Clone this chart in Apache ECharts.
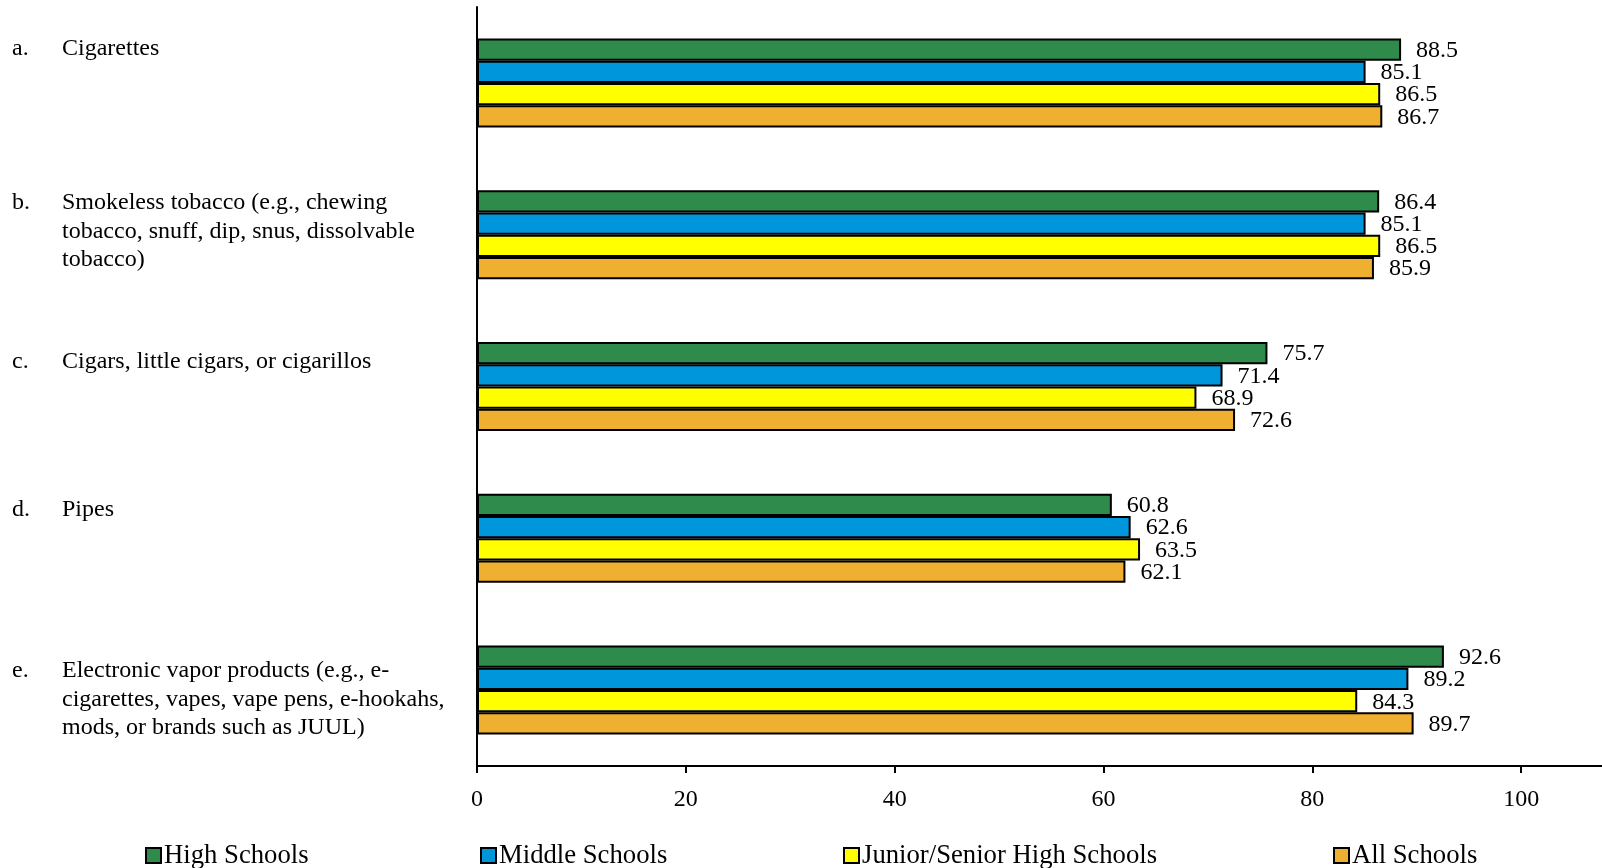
<!DOCTYPE html>
<html>
<head>
<meta charset="utf-8">
<script src="https://cdn.jsdelivr.net/npm/echarts@6/dist/echarts.min.js"></script>
<style>
html,body{margin:0;padding:0;background:#fff;}
#chart{width:1602px;height:868px;}
</style>
</head>
<body>
<div id="chart"></div>
<script>
// ---- data ----
var catLetters = ['a.', 'b.', 'c.', 'd.', 'e.'];
var catLines = [
  ['Cigarettes'],
  ['Smokeless tobacco (e.g., chewing', 'tobacco, snuff, dip, snus, dissolvable', 'tobacco)'],
  ['Cigars, little cigars, or cigarillos'],
  ['Pipes'],
  ['Electronic vapor products (e.g., e-', 'cigarettes, vapes, vape pens, e-hookahs,', 'mods, or brands such as JUUL)']
];
var seriesNames = ['High Schools', 'Middle Schools', 'Junior/Senior High Schools', 'All Schools'];
var highSchools   = [88.5, 86.4, 75.7, 60.8, 92.6];
var middleSchools = [85.1, 85.1, 71.4, 62.6, 89.2];
var juniorSenior  = [86.5, 86.5, 68.9, 63.5, 84.3];
var allSchools    = [86.7, 85.9, 72.6, 62.1, 89.7];
var xTicks = [0, 20, 40, 60, 80, 100];

// ---- styles ----
var FONT = '"Liberation Serif", "Times New Roman", serif';
var colors = ['#2E8B4B', '#0096DC', '#FFFF00', '#EFAF30'];
var labelPads = [[0,0,69,0],[0,0,6,0],[0,0,50,0],[0,0,57,0],[19,0,0,0]];
var legendLefts = [140, 475, 838, 1328];

var richStyle = {
  n: { width: 50, align: 'left', fontFamily: FONT, fontSize: 24, lineHeight: 28.5, color: '#000' },
  t: { align: 'left', fontFamily: FONT, fontSize: 24, lineHeight: 28.5, color: '#000' }
};

var categories = catLines.map(function (l) { return l.join(' '); });
var yData = categories.map(function (c, i) {
  return { value: c, textStyle: {
    padding: labelPads[i], align: 'left', verticalAlign: 'middle',
    fontFamily: FONT, fontSize: 24, color: '#000', rich: richStyle
  } };
});

var chart = echarts.init(document.getElementById('chart'), null, { renderer: 'canvas' });

var valueSets = [highSchools, middleSchools, juniorSenior, allSchools];
var series = valueSets.map(function (vals, i) {
  return {
    name: seriesNames[i],
    type: 'bar',
    data: vals,
    barGap: '0%',
    barCategoryGap: '41.4%',
    itemStyle: { color: colors[i], borderColor: '#000', borderWidth: 2 },
    label: {
      show: true, position: 'right', distance: 15, offset: [0, 1],
      fontFamily: FONT, fontSize: 24, color: '#000',
      formatter: function (p) { return p.value.toFixed(1); }
    },
    emphasis: { disabled: true },
    animation: false
  };
});

var legends = seriesNames.map(function (n, i) {
  return {
    data: [n],
    left: legendLefts[i],
    top: 837,
    itemWidth: 15, itemHeight: 15,
    icon: 'rect',
    itemStyle: { borderColor: '#000', borderWidth: 2 },
    textStyle: { fontFamily: FONT, fontSize: 26.7, color: '#000', padding: [0,0,0,-2] },
    selectedMode: false
  };
});

var option = {
  backgroundColor: '#fff',
  animation: false,
  legend: legends,
  grid: { left: 477, top: 7, width: 1253, height: 759, containLabel: false, outerBoundsMode: 'none' },
  xAxis: {
    type: 'value', min: 0, max: 120, interval: 20,
    axisLine: { show: true, lineStyle: { color: '#000', width: 2 } },
    axisTick: { show: true, length: 7, lineStyle: { color: '#000', width: 2 } },
    splitLine: { show: false },
    axisLabel: {
      fontFamily: FONT, fontSize: 24, color: '#000', margin: 22,
      formatter: function (v) { return xTicks.indexOf(v) >= 0 ? String(v) : ''; }
    }
  },
  yAxis: {
    type: 'category', inverse: true, data: yData,
    axisLine: { show: true, lineStyle: { color: '#000', width: 2 } },
    axisTick: { show: false },
    axisLabel: {
      interval: 0, align: 'left', margin: 465, verticalAlign: 'middle',
      fontFamily: FONT, fontSize: 24, color: '#000',
      formatter: function (v) {
        var i = categories.indexOf(v);
        return catLines[i].map(function (line, k) {
          return '{n|' + (k === 0 ? catLetters[i] : '') + '}{t|' + line + '}';
        }).join('\n');
      },
      rich: richStyle
    }
  },
  series: series
};
chart.setOption(option);
</script>
</body>
</html>
